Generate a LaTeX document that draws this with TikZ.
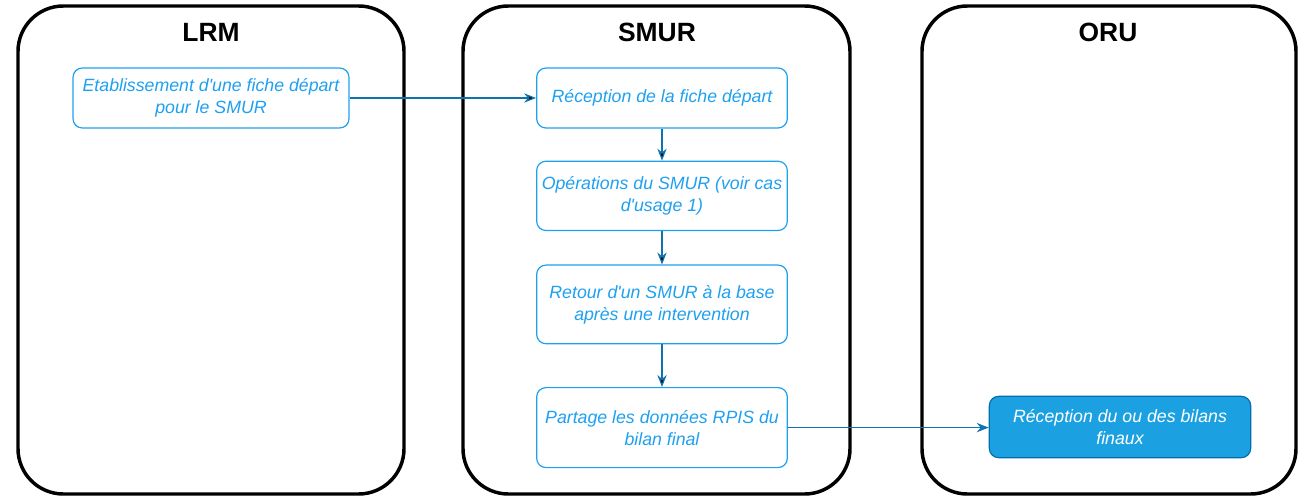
\documentclass[tikz,border=0pt]{standalone}
\usepackage{fontspec}
\setmainfont{Liberation Sans}
\usetikzlibrary{positioning,arrows.meta}
\definecolor{fichebleu}{RGB}{30,160,240}
\definecolor{flechebleu}{RGB}{16,115,175}
\definecolor{remplibleu}{RGB}{27,161,226}
\definecolor{bordbleu}{RGB}{0,110,175}
\newcommand{\apos}{\textquotesingle}

\begin{document}
\begin{tikzpicture}[
		x=0.75pt,y=-0.75pt,
		lane/.style={draw,line width=2.6pt,rounded corners=34pt},
		lanetitle/.style={font=\fontsize{19.8}{22}\selectfont\bfseries},
		fiche/.style={draw=fichebleu,text=fichebleu,line width=0.9pt,rounded corners=7pt,
			align=center,minimum width=188pt,font=\fontsize{13.3}{16.5}\selectfont\itshape,inner sep=2pt},
		fleche/.style={-{Stealth[length=9pt,width=7pt]},draw=flechebleu,line width=0.9pt}
		]
		\useasboundingbox (0,0) rectangle (1304,496);
		% couloirs
		\draw[lane] (18,6) rectangle (404,494);
		\draw[lane] (463,6) rectangle (850,494);
		\draw[lane] (922,6) rectangle (1296,494);
		\node[lanetitle] (lrm) at (211,32) {LRM};
		\node[lanetitle] (smur) at (657,32) {SMUR};
		\node[lanetitle] (oru) at (1108,32) {ORU};
		% etapes
		\node[fiche,minimum width=207pt,minimum height=45pt] (etab) at (211,98)
		{Etablissement d\apos une fiche départ\\pour le SMUR};
		\node[fiche,minimum height=45pt] (recep) at (662,98)
		{Réception de la fiche départ};
		\node[fiche,minimum height=52pt,below=24pt of recep] (oper)
		{Opérations du SMUR (voir cas\\d\apos usage 1)};
		\node[fiche,minimum height=59pt,below=25pt of oper] (retour)
		{Retour d\apos un SMUR à la base\\après une intervention};
		\node[fiche,minimum height=60pt,below=32pt of retour] (partage)
		{Partage les données RPIS du\\bilan final};
		\node[fiche,fill=remplibleu,draw=bordbleu,text=white,minimum width=196pt,minimum height=46pt] (bilan) at (1120,427)
		{Réception du ou des bilans\\finaux};
		% liens
		\path[fleche]
		(etab) edge (recep)
		(recep) edge (oper)
		(oper) edge (retour)
		(retour) edge (partage);
		\draw[fleche] (partage.east) -- (partage.east -| bilan.west);
	\end{tikzpicture}
\end{document}
